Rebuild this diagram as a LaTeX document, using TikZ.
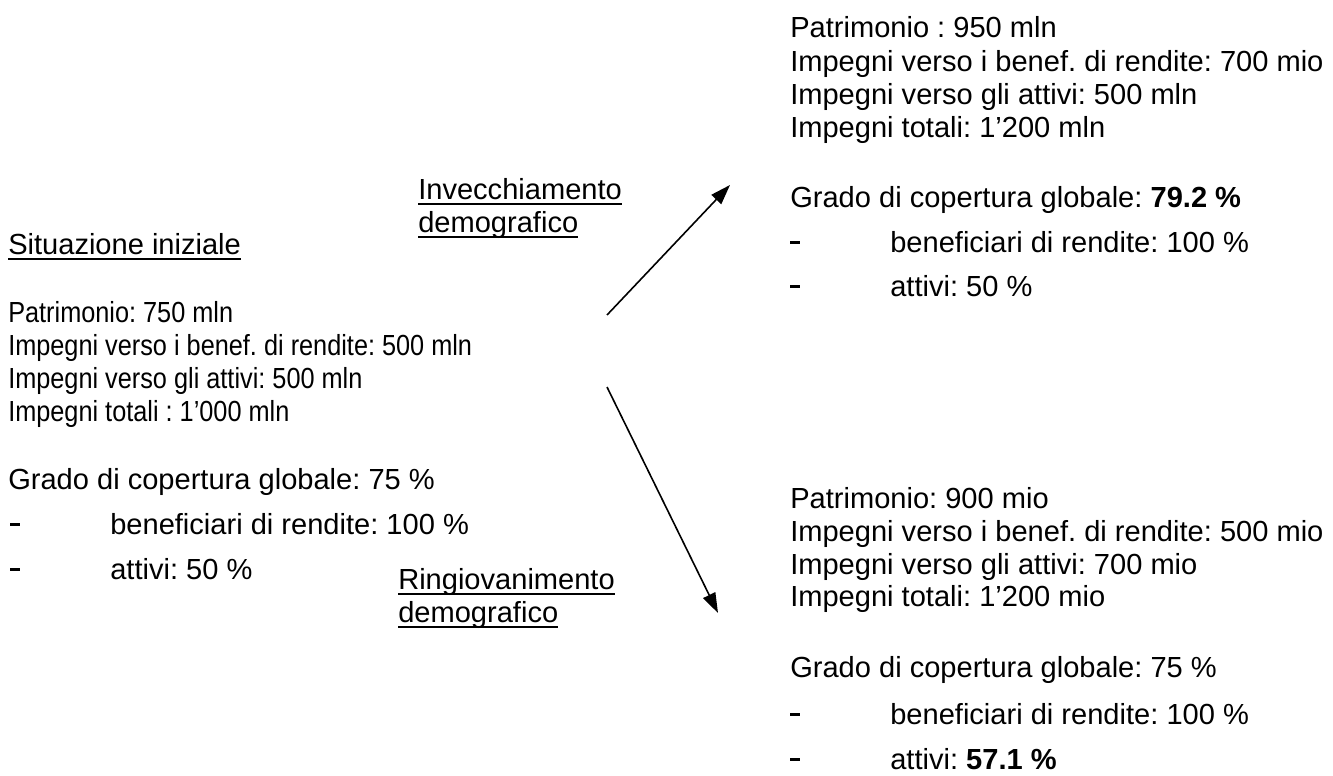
\documentclass[tikz,border=0pt]{standalone}
\usepackage{fontspec}
\setmainfont{Liberation Sans}
\newfontfamily\stretto[FakeStretch=0.87]{Liberation Sans}
\usetikzlibrary{arrows.meta}
\frenchspacing
\newcommand{\sotto}[1]{\setbox0\hbox{#1}\rlap{\rule[-4.5pt]{\wd0}{1.5pt}}\box0}
\newcommand{\trattino}{\rule[6pt]{7.5pt}{2.6pt}}
\tikzset{
  testo/.style={anchor=base west, inner sep=0pt, font=\fontsize{21.8}{26}\selectfont},
  sinistra/.style={testo, font=\fontsize{21.8}{26}\stretto},
  freccia/.style={line width=1.2pt, -{Triangle[length=15pt,width=10pt]}},
}

\begin{document}
\begin{tikzpicture}[x=0.75pt, y=-0.75pt]
            \useasboundingbox (0,0) rectangle (1333,775);
            % Situazione iniziale
            \node[testo] (sit) at (8,254) {\sotto{Situazione iniziale}};
            \node[sinistra] (sitpat) at (8,322) {Patrimonio: 750 mln};
            \node[sinistra] (sitren) at (8,355) {Impegni verso i benef. di rendite: 500 mln};
            \node[sinistra] (sitatt) at (8,388) {Impegni verso gli attivi: 500 mln};
            \node[sinistra] (sittot) at (8,421) {Impegni totali : 1’000 mln};
            \node[testo] (sitgrado) at (8,489) {Grado di copertura globale: 75 \%};
            \node[testo] (sitd1) at (10,534) {\trattino};
            \node[testo] (sitb1) at (110,534) {beneficiari di rendite: 100 \%};
            \node[testo] (sitd2) at (10,579) {\trattino};
            \node[testo] (sitb2) at (110,579) {attivi: 50 \%};
            % Invecchiamento
            \node[testo] (inv1) at (418,199) {\sotto{Invecchiamento}};
            \node[testo] (inv2) at (418,232) {\sotto{demografico}};
            \node[testo] (invpat) at (790,37) {Patrimonio : 950 mln};
            \node[testo] (invren) at (790,71) {Impegni verso i benef. di rendite: 700 mio};
            \node[testo] (invatt) at (790,104) {Impegni verso gli attivi: 500 mln};
            \node[testo] (invtot) at (790,137) {Impegni totali: 1’200 mln};
            \node[testo] (invgrado) at (790,207) {Grado di copertura globale: \textbf{79.2 \%}};
            \node[testo] (invd1) at (790,252) {\trattino};
            \node[testo] (invb1) at (890,252) {beneficiari di rendite: 100 \%};
            \node[testo] (invd2) at (790,296) {\trattino};
            \node[testo] (invb2) at (890,296) {attivi: 50 \%};
            % Ringiovanimento
            \node[testo] (rin1) at (398,589) {\sotto{Ringiovanimento}};
            \node[testo] (rin2) at (398,622) {\sotto{demografico}};
            \node[testo] (rinpat) at (790,508) {Patrimonio: 900 mio};
            \node[testo] (rinren) at (790,541) {Impegni verso i benef. di rendite: 500 mio};
            \node[testo] (rinatt) at (790,574) {Impegni verso gli attivi: 700 mio};
            \node[testo] (rintot) at (790,606) {Impegni totali: 1’200 mio};
            \node[testo] (ringrado) at (790,677) {Grado di copertura globale: 75 \%};
            \node[testo] (rind1) at (790,724) {\trattino};
            \node[testo] (rinb1) at (890,724) {beneficiari di rendite: 100 \%};
            \node[testo] (rind2) at (790,769) {\trattino};
            \node[testo] (rinb2) at (890,769) {attivi: \textbf{57.1 \%}};
            % Frecce
            \coordinate (su0) at (607,315);
            \coordinate (su1) at (730,185);
            \coordinate (giu0) at (607,387);
            \coordinate (giu1) at (718,613);
            \draw[freccia] (su0) -- (su1);
            \draw[freccia] (giu0) -- (giu1);
\end{tikzpicture}
\end{document}
